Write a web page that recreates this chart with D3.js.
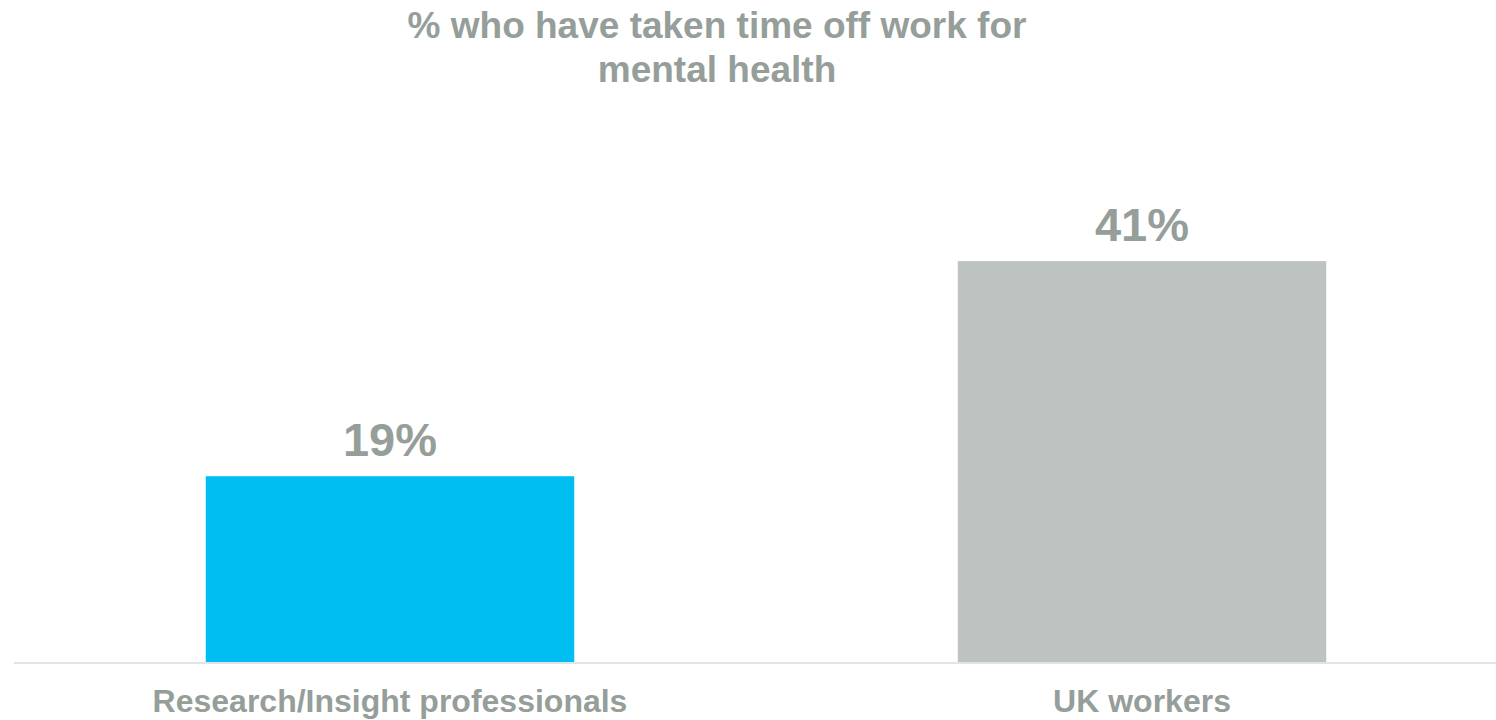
<!DOCTYPE html>
<html>
<head>
<meta charset="utf-8">
<script src="https://cdn.jsdelivr.net/npm/d3@7"></script>
<style>
    html, body { margin: 0; padding: 0; background: #fff; }
    text { font-family: Arial, "Liberation Sans", sans-serif; font-weight: bold; fill: #959e99; }
</style>
</head>
<body>
<script>
// chart data
const categories = ['Research/Insight professionals', 'UK workers'];
const values = [19, 41];
const barColors = ['#00bdf2', '#bdc3c1'];
const titleLines = ['% who have taken time off work for', 'mental health'];

const width = 1496, height = 720;

const svg = d3.select('body').append('svg')
    .attr('width', width)
    .attr('height', height);

// scales
const x = d3.scaleBand()
    .domain(categories)
    .range([14, 1518])
    .paddingInner(0.51)
    .paddingOuter(0.255);

const y = d3.scaleLinear()
    .domain([0, 45])
    .range([662, 222]);

// title
svg.append('g')
    .selectAll('text')
    .data(titleLines)
    .enter().append('text')
    .attr('x', 717)
    .attr('y', (d, i) => 38 + i * 44)
    .attr('text-anchor', 'middle')
    .style('font-size', '37px')
    .text(d => d);

// bars
svg.append('g')
    .selectAll('rect')
    .data(values)
    .enter().append('rect')
    .attr('x', (d, i) => x(categories[i]))
    .attr('y', d => y(d))
    .attr('width', x.bandwidth())
    .attr('height', d => y(0) - y(d))
    .attr('fill', (d, i) => barColors[i]);

// baseline
svg.append('line')
    .attr('x1', 14)
    .attr('x2', width)
    .attr('y1', y(0) + 1)
    .attr('y2', y(0) + 1)
    .attr('stroke', '#e1e4e4')
    .attr('stroke-width', 2);

// value labels
svg.append('g')
    .selectAll('text')
    .data(values)
    .enter().append('text')
    .attr('x', (d, i) => x(categories[i]) + x.bandwidth() / 2)
    .attr('y', d => y(d) - 20)
    .attr('text-anchor', 'middle')
    .style('font-size', '47px')
    .text(d => d + '%');

// category labels
svg.append('g')
    .selectAll('text')
    .data(categories)
    .enter().append('text')
    .attr('x', d => x(d) + x.bandwidth() / 2)
    .attr('y', 712)
    .attr('text-anchor', 'middle')
    .style('font-size', '32px')
    .text(d => d);
</script>
</body>
</html>
